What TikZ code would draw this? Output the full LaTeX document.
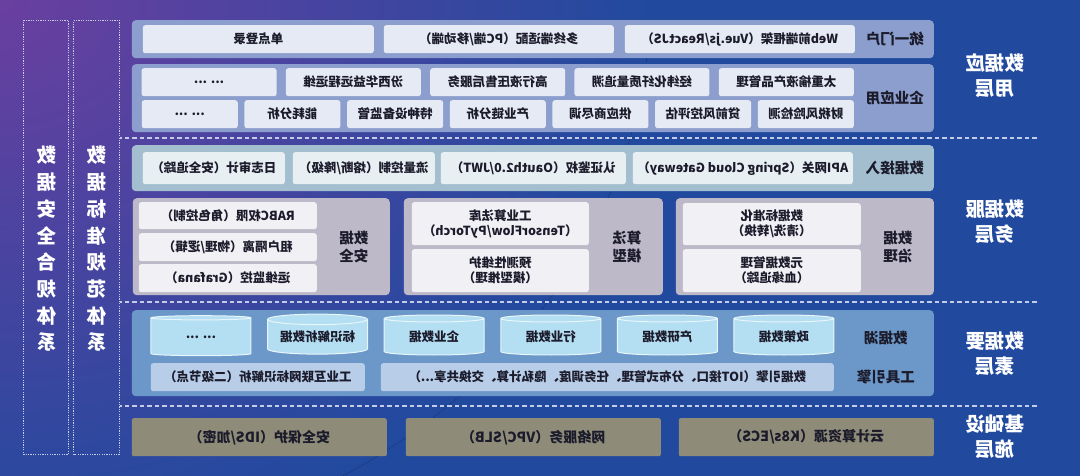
\documentclass[tikz,border=0pt]{standalone}
\usepackage{fontspec}
\setmainfont{Noto Sans CJK SC}
\usepackage{tikz}
\usetikzlibrary{shapes.geometric}

\definecolor{bgblue}{HTML}{214A9F}
\definecolor{bgpurple}{HTML}{6A3FA0}
\definecolor{portalpanel}{HTML}{8C9ECD}
\definecolor{portalcell}{HTML}{E6EAF4}
\definecolor{accesspanel}{HTML}{A3BECF}
\definecolor{accesscell}{HTML}{E8EFF3}
\definecolor{servpanel}{HTML}{BDB9C9}
\definecolor{servcell}{HTML}{F1F1F5}
\definecolor{lakepanel}{HTML}{6C98C9}
\definecolor{lakedrum}{HTML}{B4DEF1}
\definecolor{toolcell}{HTML}{B8CDE8}
\definecolor{infracell}{HTML}{8E8C78}
\definecolor{ink}{HTML}{1B1B2B}
\definecolor{sepline}{HTML}{C3CBE6}

% block from (x1,y1) to (x2,y2): name, style, x1, y1, x2, y2, text
\newcommand{\blk}[7]{%
  \node[#2, anchor=north west, minimum width={(#5)-(#3)}, minimum height={(#6)-(#4)}] (#1) at (#3,#4) {#7};}
\newcommand{\moredots}{... ...}

\begin{document}
\begin{tikzpicture}[xscale=-1, x=1pt, y=-1pt,
    every node/.append style={transform shape, inner sep=0pt, text=ink},
    panel/.style={fill=#1, rounded corners=4pt},
    cell/.style={fill=#1, rounded corners=2.5pt, align=center, font=\fontsize{12.5}{15}\selectfont\bfseries},
    infra/.style={fill=infracell, rounded corners=2pt, font=\fontsize{14}{16}\selectfont\bfseries},
    tag/.style={align=center, font=\fontsize{14.5}{18}\selectfont\bfseries},
    layer/.style={align=center, text=white, font=\fontsize{19.5}{25}\selectfont\bfseries},
    sidebox/.style={draw=sepline, line width=0.8pt, dash pattern=on 1.2pt off 1.2pt},
    sidetext/.style={align=center, text=white, font=\fontsize{19.5}{26.7}\selectfont\bfseries},
    drum/.style={cylinder, shape border rotate=90, aspect=0.14, draw=white!70!lakedrum, line width=1pt,
      fill=lakedrum, minimum width=100pt, minimum height=40pt, font=\fontsize{12.5}{15}\selectfont\bfseries},
    sep/.style={draw=sepline, line width=1.2pt, dash pattern=on 4.5pt off 3pt}]

  % background
  \useasboundingbox (0,0) rectangle (1080,476);
  \fill[bgblue] (0,0) rectangle (1080,476);
  \begin{scope}
    \clip (0,0) rectangle (1080,476);
    \fill[inner color=bgpurple, outer color=bgblue] (1080,0) ellipse [x radius=650, y radius=560];
  \end{scope}

  % side standards
  \blk{stdbox}{sidebox}{960}{20}{1006}{454}{}
  \blk{secbox}{sidebox}{1011}{20}{1056}{454}{}
  \node[sidetext] (stdtext) at (983,249) {数\\据\\标\\准\\规\\范\\体\\系};
  \node[sidetext] (sectext) at (1033.5,249) {数\\据\\安\\全\\合\\规\\体\\系};

  % layer separators
  \draw[sep] (43,138) -- (960,138);
  \draw[sep] (43,302) -- (960,302);
  \draw[sep] (43,406) -- (960,406);

  % layer titles
  \node[layer] (appl) at (85,76) {数据应\\用层};
  \node[layer] (servl) at (85,222) {数据服\\务层};
  \node[layer] (elemL) at (85,354) {数据要\\素层};
  \node[layer] (infl) at (85,437) {基础设\\施层};

  % application layer
  \blk{portal}{panel=portalpanel}{146}{20}{948}{58}{}
  \node[tag] (portaltag) at (185,39) {统一门户};
  \blk{web}{cell=portalcell}{225}{25}{455}{53}{Web前端框架（Vue.js/ReactJS）}
  \blk{multi}{cell=portalcell}{466}{25}{696}{53}{多终端适配（PC端/移动端）}
  \blk{sso}{cell=portalcell}{706}{25}{937}{53}{单点登录}

  \blk{ent}{panel=portalpanel}{146}{64}{948}{132}{}
  \node[tag] (enttag) at (185,98) {企业应用};
  \foreach \t [count=\i from 0] in {太重榆液产品管理, 经纬化纤质量追溯, 高行液压售后服务, 汾西华益远程运维, \moredots}
    \blk{enta\i}{cell=portalcell}{226+\i*144.3}{68}{361+\i*144.3}{96}{\t};
  \foreach \t [count=\i from 0] in {财税风险检测, 贷前风控评估, 供应商尽调, 产业链分析, 特种设备监管, 能耗分析, \moredots}
    \blk{entb\i}{cell=portalcell}{226+\i*102.67}{100}{322+\i*102.67}{128}{\t};

  % service layer
  \blk{access}{panel=accesspanel}{146}{145}{948}{191}{}
  \node[tag] (accesstag) at (185,168) {数据接入};
  \blk{api}{cell=accesscell}{227}{152}{447}{184}{API网关（Spring Cloud Gateway）}
  \blk{auth}{cell=accesscell}{454}{152}{639}{184}{认证鉴权（Oauth2.0/JWT）}
  \blk{flow}{cell=accesscell}{645}{152}{787}{184}{流量控制（熔断/降级）}
  \blk{audit}{cell=accesscell}{795}{152}{937}{184}{日志审计（安全追踪）}

  \blk{gov}{panel=servpanel}{146}{198}{404}{295}{}
  \node[tag] (govtag) at (182,247) {数据\\治理};
  \blk{norm}{cell=servcell}{219}{203}{397}{245}{数据标准化\\（清洗/转换）}
  \blk{meta}{cell=servcell}{219}{249}{397}{292}{元数据管理\\（血缘追踪）}

  \blk{algo}{panel=servpanel}{417}{198}{676}{295}{}
  \node[tag] (algotag) at (453,247) {算法\\模型};
  \blk{lib}{cell=servcell}{491}{202}{668}{245}{工业算法库\\（TensorFlow/PyTorch）}
  \blk{pred}{cell=servcell}{491}{249}{668}{292}{预测性维护\\（模型推理）}

  \blk{safe}{panel=servpanel}{690}{198}{947}{295}{}
  \node[tag] (safetag) at (726,247) {数据\\安全};
  \blk{rbac}{cell=servcell}{763}{202}{941}{229}{RABC权限（角色控制）}
  \blk{tenant}{cell=servcell}{763}{233}{941}{261}{租户隔离（物理/逻辑）}
  \blk{ops}{cell=servcell}{763}{264}{941}{292}{运维监控（Grafana）}

  % element layer
  \blk{elem}{panel=lakepanel}{146}{310}{948}{396}{}
  \node[tag] (laketag) at (194,338) {数据湖};
  \node[tag] (tooltag) at (194,377) {工具引擎};
  \foreach \t [count=\i from 0] in {政策数据, 产研数据, 行业数据, 企业数据, 标识解析数据, \moredots}
    \node[drum] (drum\i) at (296+\i*116.6,337) {\t};
  \blk{engine}{cell=toolcell}{246}{363}{699}{391}{数据引擎（IOT接口、分布式管理、任务调度、隐私计算、交换共享...）}
  \blk{ident}{cell=toolcell}{715}{363}{929}{391}{工业互联网标识解析（二级节点）}

  % infrastructure layer
  \blk{cloud}{infra}{146}{418}{401}{456}{云计算资源（K8s/ECS）}
  \blk{net}{infra}{419}{418}{674}{456}{网络服务（VPC/SLB）}
  \blk{guard}{infra}{693}{418}{948}{456}{安全保护（IDS/加密）}
\end{tikzpicture}
\end{document}
